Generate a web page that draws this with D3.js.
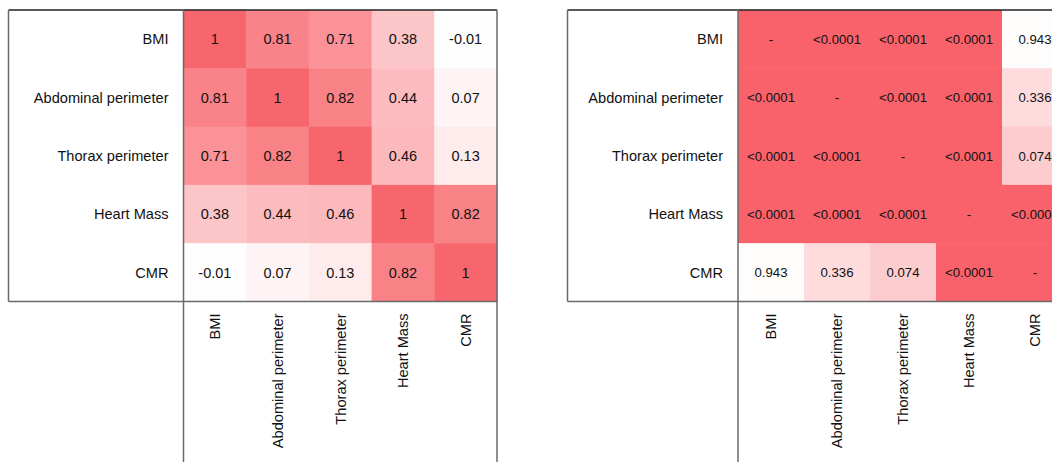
<!DOCTYPE html>
<html>
<head>
<meta charset="utf-8">
<script src="https://cdn.jsdelivr.net/npm/d3@7"></script>
<style>
  body { margin: 0; background: #fff; }
  text { font-family: "Liberation Sans", Arial, sans-serif; fill: #111; }
</style>
</head>
<body>
<script>
// variables shown on both matrices
let vars = ["BMI", "Abdominal perimeter", "Thorax perimeter", "Heart Mass", "CMR"];

// pearson correlations (left)
let corr = [
    [1, 0.81, 0.71, 0.38, -0.01],
    [0.81, 1, 0.82, 0.44, 0.07],
    [0.71, 0.82, 1, 0.46, 0.13],
    [0.38, 0.44, 0.46, 1, 0.82],
    [-0.01, 0.07, 0.13, 0.82, 1]
];

// p-values (right), as printed
let pvals = [
    ["-", "<0.0001", "<0.0001", "<0.0001", "0.943"],
    ["<0.0001", "-", "<0.0001", "<0.0001", "0.336"],
    ["<0.0001", "<0.0001", "-", "<0.0001", "0.074"],
    ["<0.0001", "<0.0001", "<0.0001", "-", "<0.0001"],
    ["0.943", "0.336", "0.074", "<0.0001", "-"]
];

let width = 1052, height = 462;

let svg = d3.select("body").append("svg")
    .attr("width", width)
    .attr("height", height);

let red = "#f9626a";

let corrColor = d3.scaleLinear()
    .domain([-1, 0, 1])
    .range(["#6b8fd6", "#ffffff", "#f8666d"])
    .clamp(true);

// p-value colour: full red when significant, fading pink to white otherwise
let pColor = function (p) {
    if (p === "-" || p.startsWith("<")) return red;
    let v = +p;
    if (v < 0.05) return red;
    let s = d3.scaleLinear().domain([0.05, 1]).range([0.33, 0]).clamp(true);
    return d3.interpolateRgb("#ffffff", red)(s(v));
};

let gridTop = 10, gridBottom = 301.5;

function panel(opts) {
    let g = svg.append("g");

    let x = d3.scaleBand().domain(vars).range([opts.gx, opts.gx + opts.cw * vars.length]);
    let y = d3.scaleBand().domain(vars).range([gridTop, gridBottom]);

    let cells = [];
    vars.forEach((r, i) => vars.forEach((c, j) => cells.push({r: r, c: c, v: opts.values[i][j]})));

    g.selectAll("rect.cell")
        .data(cells)
        .enter().append("rect")
        .attr("class", "cell")
        .attr("x", d => x(d.c))
        .attr("y", d => y(d.r))
        .attr("width", x.bandwidth() + 0.5)
        .attr("height", y.bandwidth() + 0.5)
        .attr("fill", d => opts.color(d.v));

    g.selectAll("text.val")
        .data(cells)
        .enter().append("text")
        .attr("class", "val")
        .attr("x", d => x(d.c) + x.bandwidth() / 2)
        .attr("y", d => y(d.r) + y.bandwidth() / 2)
        .attr("dy", "0.36em")
        .attr("text-anchor", "middle")
        .style("font-size", opts.valSize)
        .text(d => opts.fmt(d.v));

    // row labels
    g.selectAll("text.row")
        .data(vars)
        .enter().append("text")
        .attr("class", "row")
        .attr("x", opts.gx - 15)
        .attr("y", d => y(d) + y.bandwidth() / 2)
        .attr("dy", "0.36em")
        .attr("text-anchor", "end")
        .style("font-size", "14.6px")
        .text(d => d);

    // column labels, rotated
    g.selectAll("text.col")
        .data(vars)
        .enter().append("text")
        .attr("class", "col")
        .attr("transform", d => `translate(${x(d) + x.bandwidth() / 2},${gridBottom + 12}) rotate(-90)`)
        .attr("dy", "0.36em")
        .attr("text-anchor", "end")
        .style("font-size", "14.6px")
        .text(d => d);

    // frame
    let gray = "#6a6a6a";
    let right = opts.gx + opts.cw * vars.length;
    g.append("line").attr("x1", opts.left).attr("x2", right).attr("y1", gridTop).attr("y2", gridTop)
        .attr("stroke", "#222").attr("stroke-width", 1.5);
    g.append("line").attr("x1", opts.left).attr("x2", opts.left).attr("y1", gridTop).attr("y2", gridBottom)
        .attr("stroke", gray).attr("stroke-width", 1.5);
    g.append("line").attr("x1", opts.left).attr("x2", right).attr("y1", gridBottom).attr("y2", gridBottom)
        .attr("stroke", gray).attr("stroke-width", 1.5);
    g.append("line").attr("x1", opts.gx).attr("x2", opts.gx).attr("y1", gridTop).attr("y2", height)
        .attr("stroke", gray).attr("stroke-width", 1.5);
    g.append("line").attr("x1", right).attr("x2", right).attr("y1", gridTop).attr("y2", height)
        .attr("stroke", gray).attr("stroke-width", 1.5);
}

panel({
    left: 8.5, gx: 183.5, cw: 62.7,
    values: corr, color: corrColor,
    fmt: v => v, valSize: "14.5px"
});

panel({
    left: 567.5, gx: 738, cw: 66,
    values: pvals, color: pColor,
    fmt: v => v, valSize: "13.2px"
});
</script>
</body>
</html>
